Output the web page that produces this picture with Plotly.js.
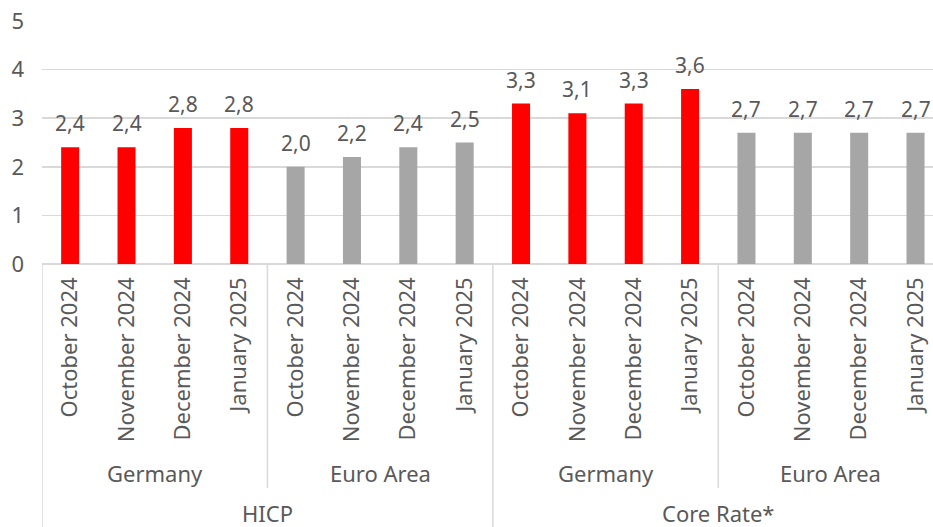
<!DOCTYPE html>
<html>
<head>
<meta charset="utf-8">
<script src="https://cdn.plot.ly/plotly-3.0.1.min.js"></script>
<style>html,body{margin:0;padding:0;background:#fff;}#chart{width:933px;height:527px;}</style>
</head>
<body>
<div id="chart"></div>
<script>
// Data
const months = ["October 2024","November 2024","December 2024","January 2025",
                "October 2024","November 2024","December 2024","January 2025",
                "October 2024","November 2024","December 2024","January 2025",
                "October 2024","November 2024","December 2024","January 2025"];
const regions = ["Germany","Euro Area","Germany","Euro Area"];
const measures = ["HICP","Core Rate*"];
const values = [2.4,2.4,2.8,2.8, 2.0,2.2,2.4,2.5, 3.3,3.1,3.3,3.6, 2.7,2.7,2.7,2.7];
const regionOfBar = [0,0,0,0, 1,1,1,1, 2,2,2,2, 3,3,3,3];

const RED = "#FF0000", GREY = "#A6A6A6", TXT = "#595959", LINE = "#D9D9D9";
const FONT = "Noto Sans";
const FS = 22;
const xs = values.map((v,i)=>i);
const colors = regionOfBar.map(r => regions[r]==="Germany" ? RED : GREY);

const trace = {
  type: "bar", x: xs, y: values, width: 0.32,
  marker: {color: colors}, hoverinfo: "skip", showlegend: false
};

// value labels
const annotations = values.map((v,i)=>({
  x: i, y: v, xref: "x", yref: "y", text: v.toFixed(1).replace(".", ","),
  showarrow: false, yanchor: "bottom", yshift: 8,
  font: {family: FONT, size: 21, color: TXT}
}));

// paper-y helpers (plot area: top 21, bottom 264, height 243)
const PT = 21, PB = 264, PH = PB - PT;
const py = p => (PB - p) / PH;

// region labels
regions.forEach((r,k)=>{
  annotations.push({x: k*4 + 1.5, y: py(473), xref: "x", yref: "paper", text: r,
    showarrow: false, yanchor: "middle", font: {family: FONT, size: FS, color: TXT}});
});
measures.forEach((m,k)=>{
  annotations.push({x: k*8 + 3.5, y: py(513), xref: "x", yref: "paper", text: m,
    showarrow: false, yanchor: "middle", font: {family: FONT, size: FS, color: TXT}});
});

const shapes = [];
// outer dividers (measure groups)
[ -0.5, 7.5 ].forEach(x=>shapes.push({type:"line", xref:"x", yref:"paper", x0:x, x1:x,
  y0:0, y1:py(527), line:{color:LINE, width:1.5}}));
// inner dividers (regions)
[ 3.5, 11.5 ].forEach(x=>shapes.push({type:"line", xref:"x", yref:"paper", x0:x, x1:x,
  y0:0, y1:py(488), line:{color:LINE, width:1.5}}));

const layout = {
  width: 933, height: 527,
  margin: {l: 42, r: 0, t: PT, b: 527 - PB, pad: 0},
  paper_bgcolor: "#fff", plot_bgcolor: "#fff",
  font: {family: FONT, size: FS, color: TXT},
  xaxis: {
    range: [-0.5, 15.31], tickvals: xs, ticktext: months, tickangle: -90,
    ticks: "", showgrid: false, zeroline: false, showline: false,
    tickfont: {family: FONT, size: FS, color: TXT}, ticklabelstandoff: 8
  },
  yaxis: {
    range: [0, 5], dtick: 1, tick0: 0, showgrid: true, gridcolor: LINE, gridwidth: 1.5,
    zeroline: true, zerolinecolor: LINE, zerolinewidth: 1.5, showline: false, ticks: "",
    tickfont: {family: FONT, size: FS, color: TXT}, ticklabelstandoff: 17
  },
  annotations: annotations, shapes: shapes, showlegend: false
};

Plotly.newPlot("chart", [trace], layout, {displayModeBar: false, staticPlot: true});
</script>
</body>
</html>
